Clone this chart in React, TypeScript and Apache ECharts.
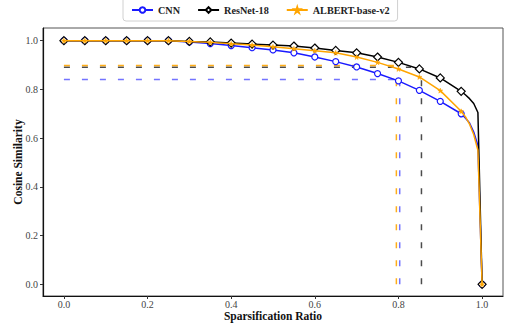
import React, { useEffect, useRef } from "react";
import * as echarts from "echarts";

const ratios = [0, 0.05, 0.1, 0.15, 0.2, 0.25, 0.3, 0.35, 0.4, 0.45, 0.5, 0.55, 0.6, 0.65, 0.7, 0.75, 0.8, 0.85, 0.9, 0.95];
const tailRatios = [0.96, 0.97, 0.98, 0.99];
const endRatio = 1.0;

const cnnMain = [1.0, 1.0, 1.0, 1.0, 1.0, 1.0, 0.995, 0.988, 0.98, 0.971, 0.962, 0.95, 0.933, 0.914, 0.892, 0.865, 0.835, 0.796, 0.751, 0.7];
const cnnTail = [0.683, 0.662, 0.625, 0.57];
const cnnEnd = 0.0;

const resnetMain = [1.0, 1.0, 1.0, 1.0, 1.0, 1.0, 0.997, 0.995, 0.99, 0.986, 0.982, 0.978, 0.97, 0.96, 0.95, 0.933, 0.911, 0.884, 0.847, 0.792];
const resnetTail = [0.778, 0.762, 0.742, 0.705];
const resnetEnd = 0.0;

const albertMain = [1.0, 1.0, 1.0, 1.0, 1.0, 1.0, 0.997, 0.993, 0.987, 0.982, 0.975, 0.967, 0.959, 0.95, 0.933, 0.911, 0.884, 0.851, 0.795, 0.71];
const albertTail = [0.688, 0.657, 0.615, 0.55];
const albertEnd = 0.0;

// threshold guide lines: similarity level, end of horizontal line, ratio of vertical line, top of vertical line
const cnnGuide = { level: 0.841, hEnd: 0.8, vx: 0.803, vTop: 0.835 };
const resnetGuide = { level: 0.891, hEnd: 0.83, vx: 0.855, vTop: 0.84 };
const albertGuide = { level: 0.898, hEnd: 0.8, vx: 0.795, vTop: 0.835 };

const xTicks = [0, 0.2, 0.4, 0.6, 0.8, 1.0];
const yTicks = [0, 0.2, 0.4, 0.6, 0.8, 1.0];

const seriesNames = ["CNN", "ResNet-18", "ALBERT-base-v2"];

const STAR = "path://M50,0 L61,35 L98,35 L68,57 L79,91 L50,70 L21,91 L32,57 L2,35 L39,35 Z";

function buildData(main: number[], tail: number[], end: number) {
  const d: any[] = [];
  ratios.forEach((x, i) => d.push({ value: [x, main[i]] }));
  tailRatios.forEach((x, i) => d.push({ value: [x, tail[i]], symbol: "none" }));
  d.push({ value: [endRatio, end] });
  return d;
}

function guideSeries(g: any, color: string) {
  const common = {
    type: "line",
    symbol: "none",
    silent: true,
    z: 1,
    lineStyle: { color, width: 1.5, type: [6, 12] },
  };
  return [
    { ...common, data: [[0, g.level], [g.hEnd, g.level]] },
    { ...common, data: [[g.vx, 0], [g.vx, g.vTop]] },
  ];
}

export default function App() {
  const ref = useRef<HTMLDivElement>(null);
  useEffect(() => {
    if (!ref.current) return;
    const chart = echarts.init(ref.current, null, { renderer: "svg" });
    const font = "Liberation Serif";
    chart.setOption({
      animation: false,
      backgroundColor: "#ffffff",
      textStyle: { fontFamily: font },
      legend: {
        data: seriesNames,
        left: 123,
        top: -3,
        padding: [8, 8, 6, 8],
        itemWidth: 21,
        itemHeight: 7,
        itemGap: 17,
        borderColor: "#d0d0d0",
        borderWidth: 1,
        borderRadius: 3,
        textStyle: { fontFamily: font, fontWeight: "bold", fontSize: 10.2, color: "#222" },
      },
      grid: {
        left: 43,
        right: 10,
        top: 28,
        bottom: 29,
        outerBoundsMode: "none",
        containLabel: false,
        show: true,
        borderColor: "#555",
        borderWidth: 1,
      },
      xAxis: {
        type: "value",
        min: -0.05,
        max: 1.05,
        name: "Sparsification Ratio",
        nameLocation: "middle",
        nameGap: 14,
        nameMoveOverlap: false,
        nameTextStyle: { fontFamily: font, fontWeight: "bold", fontSize: 11.5, color: "#111" },
        axisLine: { show: true, onZero: false, lineStyle: { color: "#111", width: 1.2 } },
        axisTick: { show: true, customValues: xTicks, length: 3, lineStyle: { color: "#333" } },
        axisLabel: {
          customValues: xTicks,
          formatter: (v: number) => v.toFixed(1),
          fontSize: 10,
          color: "#444",
          margin: 3,
          fontFamily: font,
        },
        splitLine: { show: false },
      },
      yAxis: {
        type: "value",
        min: -0.048,
        max: 1.052,
        name: "Cosine Similarity",
        nameLocation: "middle",
        nameGap: 19,
        nameMoveOverlap: false,
        nameTextStyle: { fontFamily: font, fontWeight: "bold", fontSize: 11.5, color: "#111" },
        axisLine: { show: true, onZero: false, lineStyle: { color: "#111", width: 1.2 } },
        axisTick: { show: true, customValues: yTicks, length: 3, lineStyle: { color: "#333" } },
        axisLabel: {
          customValues: yTicks,
          formatter: (v: number) => v.toFixed(1),
          fontSize: 10,
          color: "#444",
          margin: 5,
          fontFamily: font,
        },
        splitLine: { show: false },
      },
      series: [
        ...guideSeries(cnnGuide, "rgba(40,40,255,0.65)"),
        ...guideSeries(resnetGuide, "rgba(0,0,0,0.7)"),
        ...guideSeries(albertGuide, "rgba(255,165,0,0.9)"),
        {
          name: "CNN",
          type: "line",
          z: 3,
          data: buildData(cnnMain, cnnTail, cnnEnd),
          symbol: "circle",
          symbolSize: 6,
          showAllSymbol: true,
          lineStyle: { color: "#1a1aff", width: 1.5 },
          itemStyle: { color: "#ffffff", borderColor: "#1a1aff", borderWidth: 1.2 },
        },
        {
          name: "ResNet-18",
          type: "line",
          z: 4,
          data: buildData(resnetMain, resnetTail, resnetEnd),
          symbol: "diamond",
          symbolSize: 8,
          showAllSymbol: true,
          lineStyle: { color: "#000000", width: 1.5 },
          itemStyle: { color: "#ffffff", borderColor: "#000000", borderWidth: 1.2 },
        },
        {
          name: "ALBERT-base-v2",
          type: "line",
          z: 5,
          data: buildData(albertMain, albertTail, albertEnd),
          symbol: STAR,
          symbolSize: 5,
          showAllSymbol: true,
          lineStyle: { color: "#ffa500", width: 1.5 },
          itemStyle: { color: "#ffa500", borderColor: "#ffa500", borderWidth: 0.5 },
        },
      ],
    });
    return () => chart.dispose();
  }, []);
  return (
    <div
      ref={ref}
      style={{ position: "fixed", left: 0, top: 0, width: 513, height: 325 }}
    />
  );
}
